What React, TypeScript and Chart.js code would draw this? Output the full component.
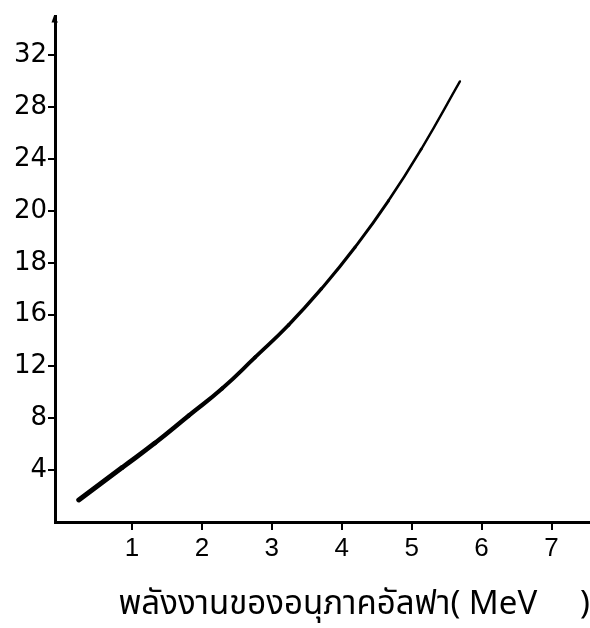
import { useEffect, useRef } from 'react';
import { Chart, registerables } from 'chart.js';

Chart.register(...registerables);

// Alpha-particle energy (MeV) and the value read on the hand-labelled vertical axis
const energyMeV = [0.24, 0.86, 1.33, 1.81, 2.29, 2.76, 3.24, 3.71, 4.19, 4.67, 5.14, 5.69];
const rangeValues = [1.7, 4.2, 6.1, 8.2, 10.3, 12.7, 15.2, 17.0, 18.6, 20.8, 24.8, 30.0];

// Tick labels as written on the original chart
const xTickValues = [1, 2, 3, 4, 5, 6, 7];
const yTickLabels = [4, 8, 12, 16, 18, 20, 24, 28, 32];

const xTitle = 'พลังงานของอนุภาคอัลฟา( MeV     )';

// The hand-drawn vertical axis places its labels at equal spacing; map a value to that slot
function toAxisSlot(v: number): number {
  const stops = [0, ...yTickLabels];
  for (let i = 1; i < stops.length; i++) {
    if (v <= stops[i]) {
      return i - 1 + (v - stops[i - 1]) / (stops[i] - stops[i - 1]);
    }
  }
  const n = stops.length - 1;
  return n + (v - stops[n]) / (stops[n] - stops[n - 1]);
}

const axisArrow = {
  id: 'axisArrow',
  afterDraw(chart: any) {
    const { ctx, chartArea } = chart;
    const x = chartArea.left;
    const y = chartArea.top;
    ctx.save();
    ctx.fillStyle = '#000';
    ctx.beginPath();
    ctx.moveTo(x - 3.5, y + 6);
    ctx.lineTo(x + 3, y + 6);
    ctx.lineTo(x - 1, y - 1);
    ctx.closePath();
    ctx.fill();
    ctx.restore();
  },
};

export default function App() {
  const canvasRef = useRef<HTMLCanvasElement | null>(null);

  useEffect(() => {
    if (!canvasRef.current) return;
    const points = energyMeV.map((x, i) => ({ x, y: toAxisSlot(rangeValues[i]) }));
    const n = points.length;
    const chart = new Chart(canvasRef.current, {
      type: 'line',
      data: {
        datasets: [
          {
            data: points,
            borderColor: '#000',
            borderWidth: 3,
            pointRadius: 0,
            tension: 0.5,
            borderCapStyle: 'round',
            fill: false,
            segment: {
              borderWidth: (ctx: any) => 5 - (2.6 * ctx.p0DataIndex) / (n - 2),
            },
          } as any,
        ],
      },
      plugins: [axisArrow],
      options: {
        animation: false,
        responsive: true,
        maintainAspectRatio: false,
        layout: { padding: { top: 13, right: 0, bottom: 0, left: 0 } },
        plugins: {
          legend: { display: false },
          tooltip: { enabled: false },
        },
        scales: {
          x: {
            type: 'linear',
            min: -0.1,
            max: 7.55,
            afterBuildTicks: (s: any) => {
              s.ticks = xTickValues.map((v) => ({ value: v }));
            },
            afterFit: (s: any) => {
              s.height = 106;
            },
            ticks: {
              callback: (v: any) => String(v),
              color: '#000',
              padding: 3,
              maxRotation: 0,
              autoSkip: false,
              font: { family: "'Liberation Sans', sans-serif", size: 26 },
            },
            grid: {
              drawOnChartArea: false,
              drawTicks: true,
              tickLength: 8,
              color: '#000',
              lineWidth: 2,
            },
            border: { color: '#000', width: 3 },
            title: {
              display: true,
              text: xTitle,
              align: 'end',
              color: '#000',
              font: { family: "'Noto Sans Thai', 'Loma', 'Garuda', 'Liberation Serif', serif", size: 33 },
              padding: { top: 0, bottom: 1 },
            },
          },
          y: {
            type: 'linear',
            min: 0,
            max: 9.75,
            afterBuildTicks: (s: any) => {
              s.ticks = yTickLabels.map((_, i) => ({ value: i + 1 }));
            },
            afterFit: (s: any) => {
              s.width = 55;
            },
            ticks: {
              callback: (v: any) => String(yTickLabels[Math.round(v) - 1]),
              color: '#000',
              padding: 1,
              autoSkip: false,
              font: { family: "'DejaVu Sans', sans-serif", size: 26 },
            },
            grid: {
              drawOnChartArea: false,
              drawTicks: true,
              tickLength: 7,
              color: '#000',
              lineWidth: 2,
            },
            border: { color: '#000', width: 3 },
          },
        },
      },
    });
    return () => chart.destroy();
  }, []);

  return (
    <div style={{ position: 'absolute', left: 0, top: 0, width: 590, height: 628, background: '#fff' }}>
      <canvas ref={canvasRef} />
    </div>
  );
}
